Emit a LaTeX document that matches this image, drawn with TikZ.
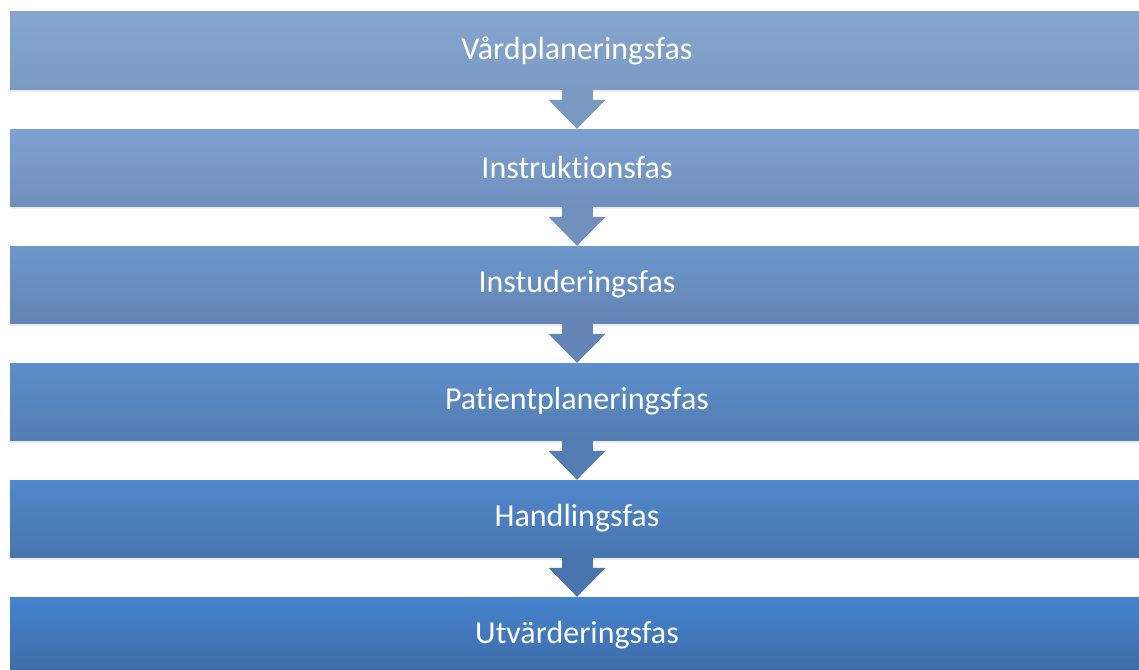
\documentclass[tikz,border=0pt]{standalone}
\usepackage{fontspec}
\setmainfont[Ligatures=NoCommon]{Carlito}
\usetikzlibrary{arrows.meta,shadows}

\definecolor{faseA}{HTML}{87A6CF}
\definecolor{faseAb}{HTML}{7A99C3}
\definecolor{faseB}{HTML}{7EA1D1}
\definecolor{faseBb}{HTML}{7090BE}
\definecolor{faseC}{HTML}{6C97CA}
\definecolor{faseCb}{HTML}{6384B4}
\definecolor{faseD}{HTML}{5C8ECB}
\definecolor{faseDb}{HTML}{547DB1}
\definecolor{faseE}{HTML}{4F88CC}
\definecolor{faseEb}{HTML}{4975AE}
\definecolor{faseF}{HTML}{4584CD}
\definecolor{faseFb}{HTML}{3E6BA7}

\tikzset{
  fas/.style={minimum width=1134pt, minimum height=77pt, inner sep=0pt,
    text=white, font=\fontsize{32}{38}\selectfont,
    drop shadow={shadow xshift=0pt, shadow yshift=-3pt, opacity=.15}},
  pil/.style={line width=31pt, -{Triangle[width=57pt,length=29pt,line width=0pt]}}
}

\begin{document}
\begin{tikzpicture}[x=1pt,y=-1pt]
    \useasboundingbox (0,0) rectangle (1139,669);
    \node[fas, top color=faseA, bottom color=faseAb] (Vardplanering) at (577, 50.5) {Vårdplaneringsfas};
    \node[fas, top color=faseB, bottom color=faseBb] (Instruktion) at (577,167.5) {Instruktionsfas};
    \node[fas, top color=faseC, bottom color=faseCb] (Instudering) at (577,284.5) {Instuderingsfas};
    \node[fas, top color=faseD, bottom color=faseDb] (Patientplanering) at (577,401.5) {Patientplaneringsfas};
    \node[fas, top color=faseE, bottom color=faseEb] (Handling) at (577,518.5) {Handlingsfas};
    \node[fas, top color=faseF, bottom color=faseFb] (Utvardering) at (577,635.5) {Utvärderingsfas};

    \begin{scope}[every path/.style={pil}]
       \draw[faseAb] (Vardplanering) -- (Instruktion);
       \draw[faseBb] (Instruktion) -- (Instudering);
       \draw[faseCb] (Instudering) -- (Patientplanering);
       \draw[faseDb] (Patientplanering) -- (Handling);
       \draw[faseEb] (Handling) -- (Utvardering);
    \end{scope}
\end{tikzpicture}
\end{document}
